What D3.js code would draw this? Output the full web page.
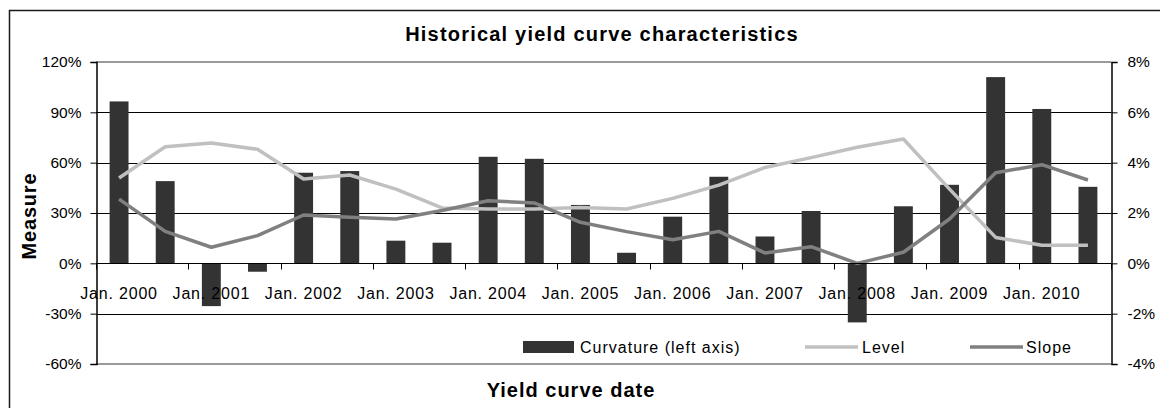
<!DOCTYPE html>
<html>
<head>
<meta charset="utf-8">
<script src="https://cdn.jsdelivr.net/npm/d3@7"></script>
<style>
  html, body { margin: 0; padding: 0; background: #fff; }
  svg { display: block; font-family: "Liberation Sans", Arial, sans-serif; }
</style>
</head>
<body>
<svg id="chart" width="1160" height="408"></svg>
<script>
// Semi-annual yield curve dates
const categories = [
  "Jan. 2000", "Jul. 2000", "Jan. 2001", "Jul. 2001", "Jan. 2002", "Jul. 2002",
  "Jan. 2003", "Jul. 2003", "Jan. 2004", "Jul. 2004", "Jan. 2005", "Jul. 2005",
  "Jan. 2006", "Jul. 2006", "Jan. 2007", "Jul. 2007", "Jan. 2008", "Jul. 2008",
  "Jan. 2009", "Jul. 2009", "Jan. 2010", "Jul. 2010"
];
// Curvature, in percent (left axis)
const curvature = [96.5, 49, -25.5, -5, 54, 55, 13.5, 12.3, 63.5, 62.3, 34.8, 6.3,
                   27.8, 51.6, 16, 31.2, -35.2, 34, 46.8, 111, 92, 45.6];
// Level, in percent (right axis)
const level = [3.39, 4.63, 4.78, 4.53, 3.35, 3.51, 2.95, 2.2, 2.16, 2.16, 2.22, 2.16,
               2.58, 3.11, 3.81, 4.2, 4.61, 4.94, 2.95, 1.03, 0.72, 0.72];
// Slope, in percent (right axis)
const slope = [2.55, 1.27, 0.64, 1.1, 1.92, 1.83, 1.76, 2.1, 2.49, 2.4, 1.63, 1.26,
               0.94, 1.27, 0.41, 0.66, 0.0, 0.44, 1.76, 3.6, 3.92, 3.31];
// Axis ticks
const leftTicks = [120, 90, 60, 30, 0, -30, -60];
const rightTicks = [8, 6, 4, 2, 0, -2, -4];
const seriesNames = ["Curvature (left axis)", "Level", "Slope"];

const svg = d3.select("#chart");
const plot = { left: 96, right: 1111, top: 62, bottom: 364 };

// Scales
const xCat = d3.scaleBand().domain(categories).range([plot.left, plot.right]).padding(0);
const xBar = d3.scaleBand().domain(categories).range([plot.left, plot.right])
  .paddingInner(0.59).paddingOuter(0.295);
const yL = d3.scaleLinear().domain([-60, 120]).range([plot.bottom, plot.top]);
const yR = d3.scaleLinear().domain([-4, 8]).range([plot.bottom, plot.top]);
const cx = c => xCat(c) + xCat.bandwidth() / 2;

// Outer chart frame (extends past the right and bottom edges)
svg.append("rect")
  .attr("x", 9.5).attr("y", 10.5).attr("width", 1200).attr("height", 500)
  .attr("fill", "none").attr("stroke", "#1a1a1a").attr("stroke-width", 1.5);

// Title
svg.append("text")
  .attr("x", 602).attr("y", 41)
  .attr("text-anchor", "middle")
  .attr("font-size", 20).attr("font-weight", "bold")
  .attr("letter-spacing", 1.2)
  .text("Historical yield curve characteristics");

// Gridlines
svg.append("g").selectAll("line")
  .data(leftTicks.filter(t => t !== 120 && t !== -60))
  .join("line")
  .attr("x1", plot.left).attr("x2", plot.right)
  .attr("y1", d => Math.round(yL(d)) + 0.5).attr("y2", d => Math.round(yL(d)) + 0.5)
  .attr("stroke", "#000").attr("stroke-width", 1);

// Plot area frame (top and bottom in grey)
[plot.top, plot.bottom].forEach(y => {
  svg.append("line")
    .attr("x1", plot.left).attr("x2", plot.right)
    .attr("y1", y).attr("y2", y)
    .attr("stroke", "#9a9a9a").attr("stroke-width", 2);
});

// Curvature bars
svg.append("g").selectAll("rect")
  .data(categories.map((c, i) => ({ c, v: curvature[i] })))
  .join("rect")
  .attr("x", d => xBar(d.c))
  .attr("width", xBar.bandwidth())
  .attr("y", d => yL(Math.max(0, d.v)))
  .attr("height", d => Math.abs(yL(d.v) - yL(0)))
  .attr("fill", "#333333");

// Lines on the right axis
const lineGen = d3.line().x((d, i) => cx(categories[i])).y(d => yR(d));
svg.append("path").datum(level)
  .attr("d", lineGen).attr("fill", "none")
  .attr("stroke", "#c0c0c0").attr("stroke-width", 3.5).attr("stroke-linejoin", "round");
svg.append("path").datum(slope)
  .attr("d", lineGen).attr("fill", "none")
  .attr("stroke", "#808080").attr("stroke-width", 3.5).attr("stroke-linejoin", "round");

// Left axis
const leftAxis = d3.axisLeft(yL).tickValues(leftTicks).tickSize(6).tickFormat(d => d + "%");
const gL = svg.append("g").attr("transform", `translate(${plot.left + 0.5},0)`).call(leftAxis);
gL.select(".domain").attr("stroke", "#000").attr("stroke-width", 1.5);
gL.selectAll(".tick line").attr("stroke", "#000");
gL.selectAll(".tick text").attr("x", -15).attr("font-size", 15.5).attr("fill", "#000")
  .attr("font-family", "'Liberation Sans', Arial, sans-serif");

// Right axis
const rightAxis = d3.axisRight(yR).tickValues(rightTicks).tickSize(6).tickFormat(d => d + "%");
const gR = svg.append("g").attr("transform", `translate(${plot.right + 0.5},0)`).call(rightAxis);
gR.select(".domain").attr("stroke", "#000").attr("stroke-width", 1.5);
gR.selectAll(".tick line").attr("stroke", "#000");
gR.selectAll(".tick text").attr("x", 16).attr("font-size", 15.5).attr("fill", "#000")
  .attr("font-family", "'Liberation Sans', Arial, sans-serif");

// Category axis at zero
const y0 = Math.round(yL(0)) + 0.5;
svg.append("line")
  .attr("x1", plot.left).attr("x2", plot.right).attr("y1", y0).attr("y2", y0)
  .attr("stroke", "#000").attr("stroke-width", 1);
const boundaries = d3.range(0, categories.length + 1, 2);
svg.append("g").selectAll("line")
  .data(boundaries)
  .join("line")
  .attr("x1", i => Math.round(plot.left + i * xCat.step()) + 0.5)
  .attr("x2", i => Math.round(plot.left + i * xCat.step()) + 0.5)
  .attr("y1", y0).attr("y2", y0 + 6)
  .attr("stroke", "#000");
svg.append("g").selectAll("text")
  .data(categories.filter((c, i) => i % 2 === 0))
  .join("text")
  .attr("x", d => cx(d)).attr("y", 299)
  .attr("text-anchor", "middle")
  .attr("font-size", 16).attr("letter-spacing", 0.8)
  .text(d => d);

// Axis titles
svg.append("text")
  .attr("transform", "translate(36,216) rotate(-90)")
  .attr("text-anchor", "middle")
  .attr("font-size", 20).attr("font-weight", "bold").attr("letter-spacing", 0.8)
  .text("Measure");
svg.append("text")
  .attr("x", 571).attr("y", 397)
  .attr("text-anchor", "middle")
  .attr("font-size", 20).attr("font-weight", "bold").attr("letter-spacing", 1.0)
  .text("Yield curve date");

// Legend
const legY = 347;
const leg = svg.append("g");
leg.append("rect").attr("x", 523).attr("y", legY - 6).attr("width", 51).attr("height", 12)
  .attr("fill", "#333333");
leg.append("line").attr("x1", 805).attr("x2", 858).attr("y1", legY).attr("y2", legY)
  .attr("stroke", "#c0c0c0").attr("stroke-width", 3.5);
leg.append("line").attr("x1", 970).attr("x2", 1023).attr("y1", legY).attr("y2", legY)
  .attr("stroke", "#808080").attr("stroke-width", 3.5);
leg.selectAll("text")
  .data([{ x: 580, t: seriesNames[0] }, { x: 862, t: seriesNames[1] }, { x: 1026, t: seriesNames[2] }])
  .join("text")
  .attr("x", d => d.x).attr("y", legY).attr("dy", "0.35em")
  .attr("font-size", 16).attr("letter-spacing", 1)
  .text(d => d.t);
</script>
</body>
</html>
